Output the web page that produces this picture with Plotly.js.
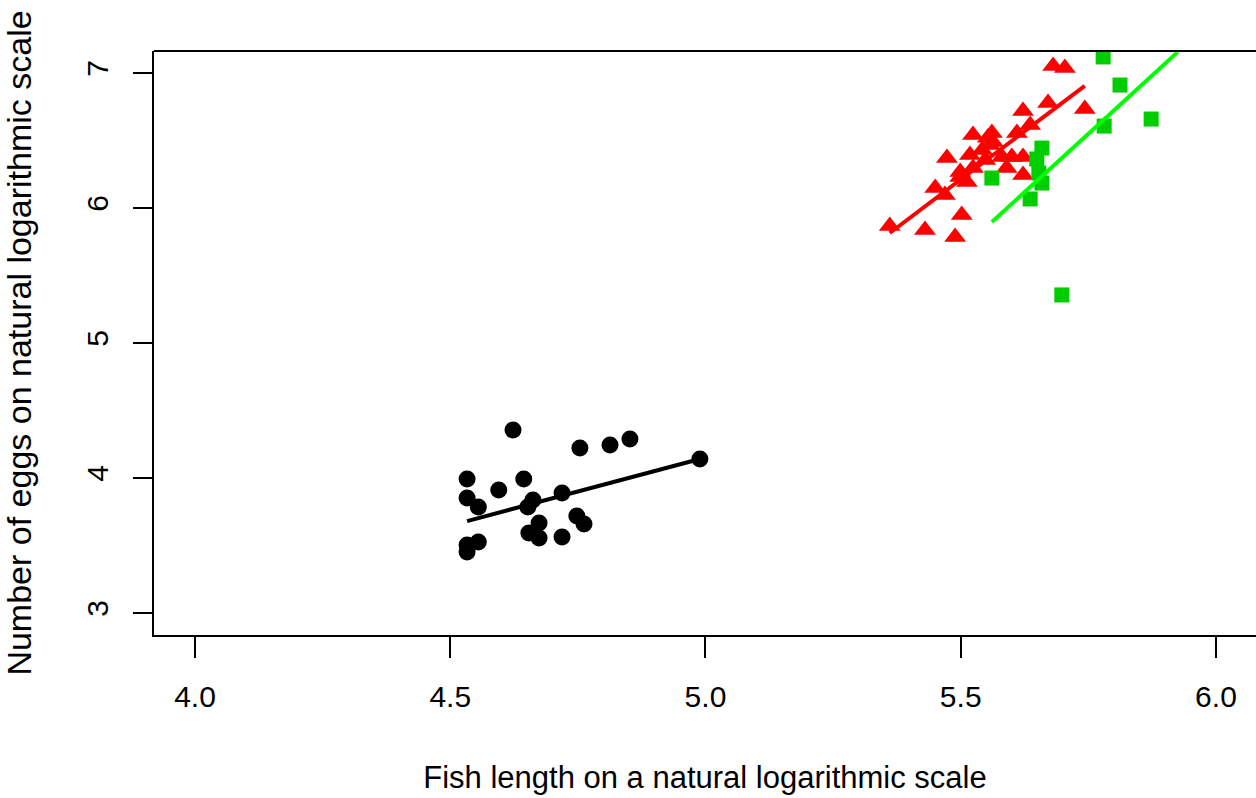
<!DOCTYPE html>
<html>
<head>
<meta charset="utf-8">
<script src="https://cdn.plot.ly/plotly-3.0.1.min.js"></script>
<style>html,body{margin:0;padding:0;background:#fff;}#chart{width:1256px;height:798px;}</style>
</head>
<body>
<div id="chart"></div>
<script>
// Group 1 (black circles)
var blackX = [4.623,4.754,4.813,4.852,4.989,4.533,4.595,4.644,4.533,4.555,4.662,4.652,4.719,4.748,4.762,4.674,4.654,4.674,4.719,4.555,4.533,4.533];
var blackY = [4.356,4.222,4.244,4.289,4.141,3.993,3.911,3.993,3.852,3.785,3.837,3.785,3.889,3.719,3.659,3.667,3.593,3.556,3.563,3.526,3.504,3.452];
// Group 2 (red triangles)
var redX = [5.361,5.430,5.489,5.502,5.450,5.469,5.512,5.499,5.524,5.473,5.518,5.542,5.524,5.561,5.553,5.563,5.581,5.600,5.622,5.590,5.622,5.610,5.636,5.622,5.671,5.743,5.681,5.704,5.548,5.557,5.499];
var redY = [5.867,5.837,5.785,5.948,6.148,6.096,6.193,6.267,6.296,6.370,6.393,6.430,6.541,6.556,6.520,6.489,6.378,6.378,6.378,6.296,6.244,6.556,6.615,6.719,6.778,6.733,7.052,7.037,6.356,6.467,6.230];
// Group 3 (green squares)
var greenX = [5.779,5.812,5.873,5.781,5.659,5.649,5.653,5.659,5.561,5.636,5.698];
var greenY = [7.119,6.911,6.659,6.607,6.444,6.363,6.259,6.185,6.222,6.067,5.356];
// Fitted line endpoints
var blackFitX = [4.533,4.989], blackFitY = [3.681,4.141];
var redFitX = [5.361,5.743], redFitY = [5.815,6.904];
var greenFitX = [5.561,5.925], greenFitY = [5.896,7.155];
// Ticks
var xTicks = [4.0,4.5,5.0,5.5,6.0];
var yTicks = [3,4,5,6,7];

var FONT = 'Liberation Sans, Arial, Helvetica, sans-serif';
var traces = [
  {x: blackX, y: blackY, type:'scatter', mode:'markers', marker:{symbol:'circle', size:17, color:'#000000'}},
  {x: redX, y: redY, type:'scatter', mode:'markers', marker:{symbol:'triangle-up', size:19, color:'#FF0000'}},
  {x: greenX, y: greenY, type:'scatter', mode:'markers', marker:{symbol:'square', size:15, color:'#00CD00'}},
  {x: blackFitX, y: blackFitY, type:'scatter', mode:'lines', line:{color:'#000000', width:4}},
  {x: redFitX, y: redFitY, type:'scatter', mode:'lines', line:{color:'#FF0000', width:4}},
  {x: greenFitX, y: greenFitY, type:'scatter', mode:'lines', line:{color:'#00FF00', width:4}}
];
var layout = {
  width:1256, height:798,
  showlegend:false,
  paper_bgcolor:'#ffffff', plot_bgcolor:'#ffffff',
  margin:{l:154, r:0, t:51, b:163},
  font:{family:FONT, color:'#000000', size:30},
  xaxis:{
    range:[3.9197,6.0784], showgrid:false, zeroline:false,
    showline:true, linecolor:'#000', linewidth:2,
    ticks:'outside', ticklen:21, tickwidth:2, tickcolor:'#000',
    tickvals:xTicks, ticktext:xTicks.map(function(v){return v.toFixed(1);}),
    tickfont:{size:30, family:FONT}, ticklabelstandoff:13,
    title:{text:'Fish length on a natural logarithmic scale', font:{size:31, family:FONT}, standoff:54}
  },
  yaxis:{
    range:[2.837,7.163], showgrid:false, zeroline:false,
    showline:true, linecolor:'#000', linewidth:2,
    ticks:'outside', ticklen:19, tickwidth:2, tickcolor:'#000',
    tickvals:yTicks, ticktext:yTicks.map(String), tickangle:-90,
    tickfont:{size:30, family:FONT}, ticklabelstandoff:13,
    title:{text:'Number of eggs on natural logarithmic scale', font:{size:34, family:FONT}, standoff:44}
  },
  shapes:[{type:'line', xref:'paper', yref:'paper', x0:0, x1:1, y0:1, y1:1, line:{color:'#000', width:2}}]
};
Plotly.newPlot('chart', traces, layout, {displayModeBar:false, staticPlot:true});
</script>
</body>
</html>
